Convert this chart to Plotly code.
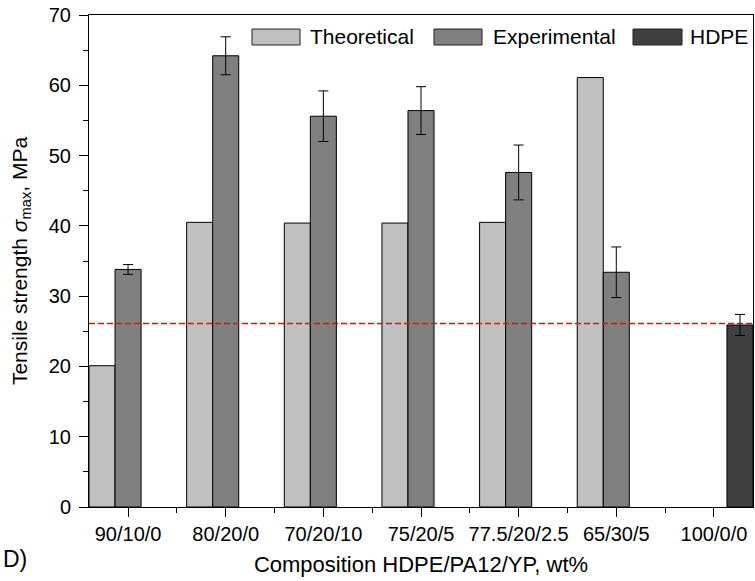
import plotly.graph_objects as go

categories = ["90/10/0", "80/20/0", "70/20/10", "75/20/5", "77.5/20/2.5", "65/30/5", "100/0/0"]
theoretical = [20.1, 40.5, 40.4, 40.4, 40.5, 61.1, None]
experimental = [33.8, 64.2, 55.6, 56.4, 47.6, 33.4, None]
experimental_err = [0.7, 2.7, 3.6, 3.4, 3.9, 3.6, None]
hdpe = [None, None, None, None, None, None, 25.9]
hdpe_err = [None, None, None, None, None, None, 1.5]
hdpe_reference = 26.1

series_names = ["Theoretical", "Experimental", "HDPE"]
series_colors = ["#c0c0c0", "#808080", "#404040"]

FONT = "Liberation Sans, Arial, sans-serif"
xpos = list(range(len(categories)))

fig = go.Figure()
fig.add_trace(go.Bar(x=xpos, y=theoretical, name=series_names[0],
                     marker=dict(color=series_colors[0], line=dict(color="black", width=1)),
                     showlegend=False))
fig.add_trace(go.Bar(x=xpos, y=experimental, name=series_names[1],
                     marker=dict(color=series_colors[1], line=dict(color="black", width=1)),
                     error_y=dict(type="data", array=experimental_err, color="black", thickness=1, width=5),
                     showlegend=False))
fig.add_trace(go.Bar(x=xpos, y=hdpe, name=series_names[2],
                     marker=dict(color=series_colors[2], line=dict(color="black", width=1)),
                     error_y=dict(type="data", array=hdpe_err, color="black", thickness=1, width=5),
                     showlegend=False))

# reference line at HDPE strength
fig.add_shape(type="line", xref="paper", x0=0, x1=1, yref="y", y0=hdpe_reference, y1=hdpe_reference,
              line=dict(color="rgb(255,0,0)", width=1.5, dash="6px,3px"), layer="above")

# custom legend (wide swatches)
leg_y0, leg_y1, leg_ty = 0.939, 0.9715, 0.9553
swatch_x = [(0.2455, 0.3178), (0.5196, 0.5919), (0.8193, 0.8931)]
text_x = [0.3298, 0.6054, 0.9021]
for (x0, x1), tx, name, col in zip(swatch_x, text_x, series_names, series_colors):
    fig.add_shape(type="rect", xref="paper", yref="paper", x0=x0, x1=x1, y0=leg_y0, y1=leg_y1,
                  fillcolor=col, line=dict(color="#222222", width=1))
    fig.add_annotation(xref="paper", yref="paper", x=tx, y=leg_ty, text=name, showarrow=False,
                       xanchor="left", yanchor="middle", font=dict(family=FONT, size=21, color="black"))

fig.add_annotation(xref="paper", yref="paper", x=-0.133, y=-0.105, text="D)", showarrow=False,
                   xanchor="left", yanchor="middle", font=dict(family=FONT, size=23, color="black"))

fig.update_layout(
    width=755, height=581,
    margin=dict(l=89, r=2, t=15, b=74),
    plot_bgcolor="white", paper_bgcolor="white",
    barmode="group", bargap=0.2, bargroupgap=0,
    font=dict(family=FONT, size=20, color="black"),
)
fig.update_xaxes(
    range=[-0.4, 6.4], tickmode="array", tickvals=xpos, ticktext=categories,
    showline=True, linecolor="black", linewidth=1, mirror=True,
    ticks="outside", ticklen=9, tickcolor="black", tickwidth=1,
    minor=dict(tick0=0.5, dtick=1, ticks="outside", ticklen=5, tickcolor="black", tickwidth=1),
    showgrid=False, zeroline=False,
    tickfont=dict(family=FONT, size=20),
    title=dict(text="Composition HDPE/PA12/YP, wt%", font=dict(family=FONT, size=22), standoff=12),
)
fig.update_yaxes(
    range=[0, 70], dtick=10, tick0=0,
    showline=True, linecolor="black", linewidth=1, mirror=True,
    ticks="outside", ticklen=9, tickcolor="black", tickwidth=1,
    minor=dict(dtick=5, ticks="outside", ticklen=5, tickcolor="black", tickwidth=1),
    showgrid=False, zeroline=False, ticklabelstandoff=4,
    tickfont=dict(family=FONT, size=20),
    title=dict(text="Tensile strength <i>σ</i><sub>max</sub>, MPa", font=dict(family=FONT, size=21), standoff=15),
)

fig.write_html("out.html")
